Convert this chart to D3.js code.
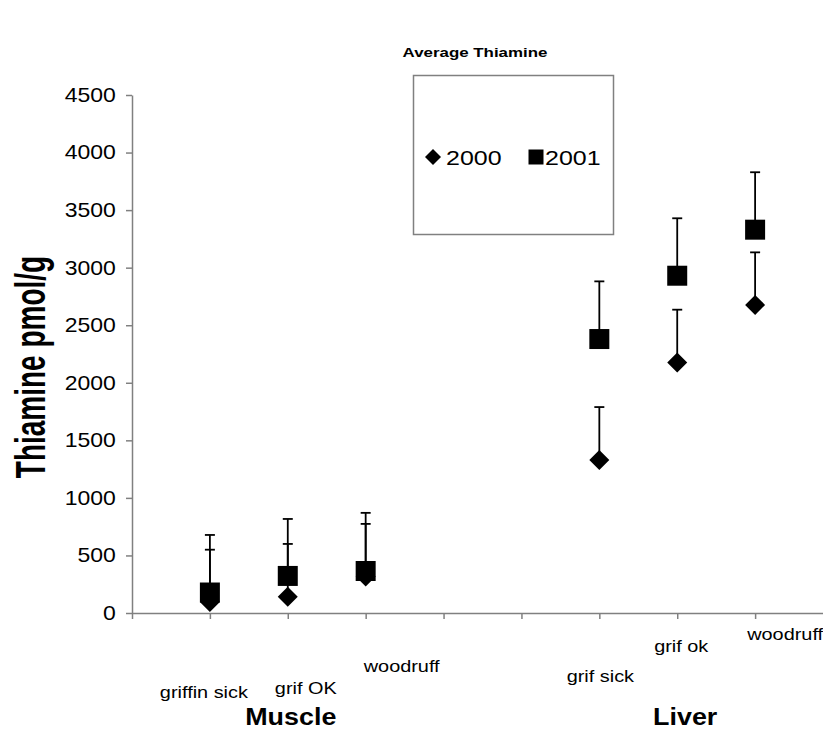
<!DOCTYPE html>
<html>

<head>
    <meta charset="UTF-8">
    <style>
        body { margin: 0; background: #fff; }
        text { font-family: "Liberation Sans", Arial, sans-serif; fill: #000; }
    </style>
</head>

<body>
    <svg></svg>
    <script src="https://d3js.org/d3.v7.min.js"></script>
    <script>
        let width = 823,
            height = 730;

        // data
        let categories = ["griffin sick", "grif OK", "woodruff", "grif sick", "grif ok", "woodruff"];
        let categoryX = [1, 2, 3, 6, 7, 8];
        let groups = ["Muscle", "Liver"];
        let groupX = [2, 7];
        let years = ["2000", "2001"];
        let values2000 = [95, 142, 316, 1330, 2177, 2676];
        let errors2000 = [455, 458, 458, 459, 458, 457];
        let values2001 = [178, 322, 365, 2380, 2930, 3330];
        let errors2001 = [500, 495, 505, 501, 499, 499];
        let yTicks = [0, 500, 1000, 1500, 2000, 2500, 3000, 3500, 4000, 4500];

        // where Excel dropped each category label (offset from its tick, baseline)
        let labelLayout = [
            { dx: -6, y: 698 }, { dx: 18, y: 694 }, { dx: 36, y: 672 },
            { dx: 1, y: 682 }, { dx: 4, y: 652 }, { dx: 30, y: 640 }
        ];
        let groupLayout = [{ dx: 3, y: 725 }, { dx: 8, y: 725 }];

        let svg = d3.select("svg")
            .attr("width", width)
            .attr("height", height);

        let x = d3.scaleLinear().domain([0, 9]).range([132, 833]);
        let y = d3.scaleLinear().domain([0, 4500]).range([613, 95]);

        // text in the original is a bit stretched sideways
        function stretchedText(parent, tx, ty, str, size, sx, weight, anchor) {
            return parent.append("text")
                .attr("transform", "translate(" + tx + "," + ty + ") scale(" + sx + ",1)")
                .attr("text-anchor", anchor || "middle")
                .style("font-size", size + "px")
                .style("font-weight", weight || "normal")
                .text(str);
        }

        // title
        stretchedText(svg, 475, 57, "Average Thiamine", 13, 1.3, "bold");

        // y axis
        let yAxis = svg.append("g")
            .attr("transform", "translate(" + x(0) + ",0)")
            .call(d3.axisLeft(y).tickValues(yTicks).tickFormat(d3.format("d"))
                .tickSize(6).tickSizeOuter(0).tickPadding(8));
        yAxis.select(".domain").attr("stroke", "#808080").attr("stroke-width", 1.5);
        yAxis.selectAll(".tick line").attr("stroke", "#808080").attr("stroke-width", 1.5);
        yAxis.selectAll(".tick text")
            .attr("transform", "scale(1.15,1)")
            .style("font-size", "20px")
            .style("font-family", "Liberation Sans, Arial, sans-serif");

        // x axis
        let xAxis = svg.append("g")
            .attr("transform", "translate(0," + y(0) + ")")
            .call(d3.axisBottom(x).tickValues(d3.range(0, 10)).tickFormat("").tickSize(6).tickSizeOuter(0));
        xAxis.select(".domain").attr("stroke", "#808080").attr("stroke-width", 1.5);
        xAxis.selectAll(".tick line").attr("stroke", "#808080").attr("stroke-width", 1.5);

        // y title
        svg.append("text")
            .attr("transform", "translate(45,367) rotate(-90) scale(1,1.5)")
            .attr("text-anchor", "middle")
            .style("font-size", "28px")
            .style("font-weight", "bold")
            .text("Thiamine pmol/g");

        // category labels
        categories.forEach((c, i) => {
            stretchedText(svg, x(categoryX[i]) + labelLayout[i].dx, labelLayout[i].y, c, 17, 1.17);
        });
        groups.forEach((g, i) => {
            stretchedText(svg, x(groupX[i]) + groupLayout[i].dx, groupLayout[i].y, g, 24, 1.12, "bold");
        });

        let series = [
            { name: years[0], values: values2000, errors: errors2000 },
            { name: years[1], values: values2001, errors: errors2001 }
        ];

        let plot = svg.append("g").attr("id", "plot");

        // plus-only error bars
        series.forEach(s => {
            let eb = plot.append("g").selectAll("g")
                .data(s.values.map((v, i) => ({ cx: categoryX[i], v: v, e: s.errors[i] })))
                .enter()
                .append("g");
            eb.append("line")
                .attr("x1", d => x(d.cx)).attr("x2", d => x(d.cx))
                .attr("y1", d => y(d.v)).attr("y2", d => y(d.v + d.e))
                .attr("stroke", "#000").attr("stroke-width", 1.8);
            eb.append("line")
                .attr("x1", d => x(d.cx) - 5).attr("x2", d => x(d.cx) + 5)
                .attr("y1", d => y(d.v + d.e)).attr("y2", d => y(d.v + d.e))
                .attr("stroke", "#000").attr("stroke-width", 1.8);
        });

        // markers: diamonds for 2000, squares for 2001
        series.forEach(s => {
            let is2000 = s.name === "2000";
            plot.append("g").selectAll("path")
                .data(s.values.map((v, i) => ({ cx: categoryX[i], v: v })))
                .enter()
                .append("path")
                .attr("d", d3.symbol().type(d3.symbolSquare).size(is2000 ? 200 : 400))
                .attr("transform", d => "translate(" + x(d.cx) + "," + y(d.v) + ")" + (is2000 ? " rotate(45)" : ""))
                .attr("fill", "#000");
        });

        // legend
        let legend = svg.append("g").attr("id", "legend");
        legend.append("rect")
            .attr("x", 413.5).attr("y", 75.5)
            .attr("width", 200).attr("height", 159)
            .attr("fill", "#fff")
            .attr("stroke", "#808080").attr("stroke-width", 1.5);
        legend.append("path")
            .attr("d", d3.symbol().type(d3.symbolSquare).size(128))
            .attr("transform", "translate(433,157) rotate(45)")
            .attr("fill", "#000");
        legend.append("path")
            .attr("d", d3.symbol().type(d3.symbolSquare).size(225))
            .attr("transform", "translate(536,157)")
            .attr("fill", "#000");
        stretchedText(legend, 446, 164.5, years[0], 20, 1.25, "normal", "start");
        stretchedText(legend, 545, 164.5, years[1], 20, 1.25, "normal", "start");
    </script>
</body>

</html>
